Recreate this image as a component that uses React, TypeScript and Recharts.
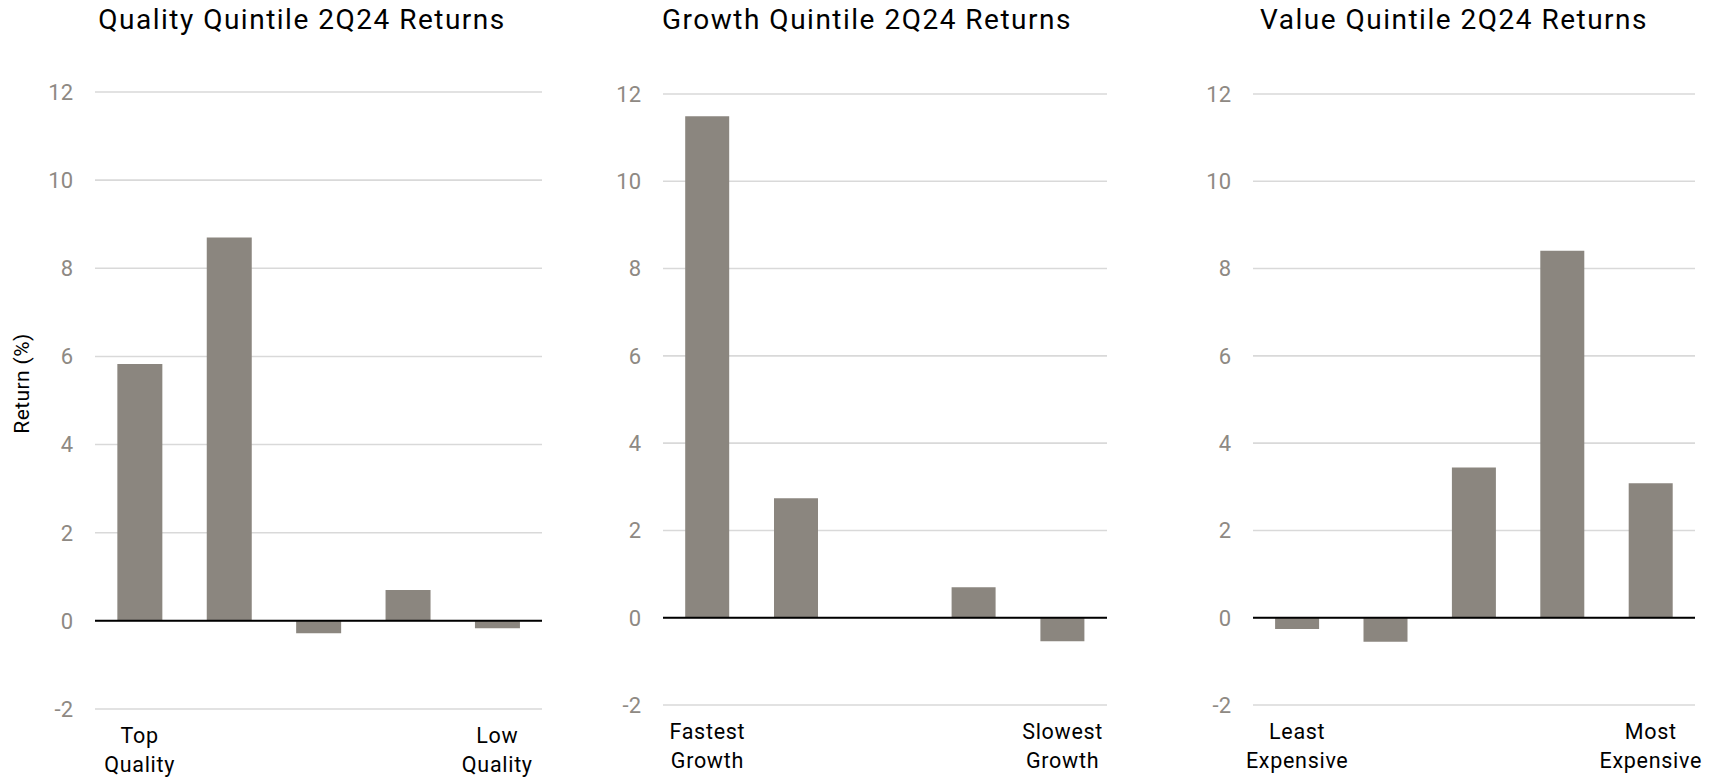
import React from 'react';
import { BarChart, Bar, XAxis, YAxis, CartesianGrid, ReferenceLine } from 'recharts';

// Quintile buckets, best to worst along each factor
const quintiles = ['Q1', 'Q2', 'Q3', 'Q4', 'Q5'];

// 2Q24 returns (%) per quintile
const qualityReturns = [5.83, 8.7, -0.28, 0.7, -0.17];
const growthReturns = [11.49, 2.74, 0, 0.7, -0.54];
const valueReturns = [-0.26, -0.55, 3.44, 8.41, 3.08];

// End labels shown under the first and last quintile
const qualityLabels = [['Top', 'Quality'], [], [], [], ['Low', 'Quality']];
const growthLabels = [['Fastest', 'Growth'], [], [], [], ['Slowest', 'Growth']];
const valueLabels = [['Least', 'Expensive'], [], [], [], ['Most', 'Expensive']];

const yTicks = [-2, 0, 2, 4, 6, 8, 10, 12];

const titles = [
  'Quality Quintile 2Q24 Returns',
  'Growth Quintile 2Q24 Returns',
  'Value Quintile 2Q24 Returns',
];

const BAR_COLOR = '#8b867f';
const TICK_COLOR = '#8e8983';
const GRID_COLOR = '#d9d9d9';
const FONT = 'Roboto, sans-serif';

type PanelProps = {
  values: number[];
  labels: string[][];
  left: number;
  width: number;
  top: number;
  xAxisHeight: number;
  yAxisWidth: number;
  rightMargin: number;
  showYLabel?: boolean;
};

const makeRows = (values: number[]) =>
  quintiles.map((q, i) => ({ quintile: q, value: values[i] }));

function Panel({ values, labels, left, width, top, xAxisHeight, yAxisWidth, rightMargin, showYLabel }: PanelProps) {
  const data = makeRows(values);
  const renderTick = (props: any) => {
    const { x, y, index } = props;
    const lines = labels[index] || [];
    if (!lines.length) return <g />;
    return (
      <text
        x={x}
        y={y + 26}
        textAnchor="middle"
        fill="#000"
        fontSize={21.5}
        letterSpacing={0.7}
        fontFamily={FONT}
      >
        <tspan x={x} dy={0}>{lines[0]}</tspan>
        <tspan x={x} dy={28.5}>{lines[1]}</tspan>
      </text>
    );
  };
  return (
    <div style={{ position: 'absolute', left, top: 0 }}>
      <BarChart
        width={width}
        height={777}
        data={data}
        margin={{ top, right: rightMargin, bottom: 0, left: 0 }}
        barCategoryGap="25%"
      >
        <CartesianGrid vertical={false} stroke={GRID_COLOR} strokeWidth={1.6} />
        <XAxis
          dataKey="quintile"
          axisLine={false}
          tickLine={false}
          interval={0}
          height={xAxisHeight}
          tick={renderTick}
        />
        <YAxis
          type="number"
          domain={[-2, 12]}
          ticks={yTicks}
          axisLine={false}
          tickLine={false}
          tickMargin={16}
          width={yAxisWidth}
          tick={{ fill: TICK_COLOR, fontSize: 22, fontFamily: FONT }}
          label={
            showYLabel
              ? {
                  content: (p: any) => {
                    const vb = p.viewBox;
                    const cx = vb.x + 22;
                    const cy = vb.y + vb.height / 2 - 17;
                    return (
                      <text
                        x={cx}
                        y={cy}
                        transform={`rotate(-90, ${cx}, ${cy})`}
                        textAnchor="middle"
                        dominantBaseline="central"
                        fill="#000"
                        fontSize={21}
                        letterSpacing={0.4}
                        fontFamily={FONT}
                      >
                        Return (%)
                      </text>
                    );
                  },
                }
              : undefined
          }
        />
        <Bar dataKey="value" fill={BAR_COLOR} isAnimationActive={false} />
        <ReferenceLine y={0} stroke="#000" strokeWidth={2} />
      </BarChart>
    </div>
  );
}

export default function App() {
  return (
    <div
      style={{
        position: 'absolute',
        left: 0,
        top: 0,
        width: 1721,
        height: 777,
        background: '#fff',
        fontFamily: FONT,
      }}
    >
      <Panel
        values={qualityReturns}
        labels={qualityLabels}
        left={0}
        width={600}
        top={92}
        xAxisHeight={68}
        yAxisWidth={95}
        rightMargin={58}
        showYLabel
      />
      <Panel
        values={growthReturns}
        labels={growthLabels}
        left={600}
        width={560}
        top={94}
        xAxisHeight={72}
        yAxisWidth={63}
        rightMargin={53}
      />
      <Panel
        values={valueReturns}
        labels={valueLabels}
        left={1160}
        width={561}
        top={94}
        xAxisHeight={72}
        yAxisWidth={93}
        rightMargin={26}
      />
      <svg
        width={1721}
        height={60}
        style={{ position: 'absolute', left: 0, top: 0, pointerEvents: 'none' }}
      >
        {[302, 867, 1454].map((cx, i) => (
          <text
            key={titles[i]}
            x={cx}
            y={29}
            textAnchor="middle"
            fontSize={28}
            letterSpacing={1.5}
            fill="#000"
            fontFamily={FONT}
          >
            {titles[i]}
          </text>
        ))}
      </svg>
    </div>
  );
}
